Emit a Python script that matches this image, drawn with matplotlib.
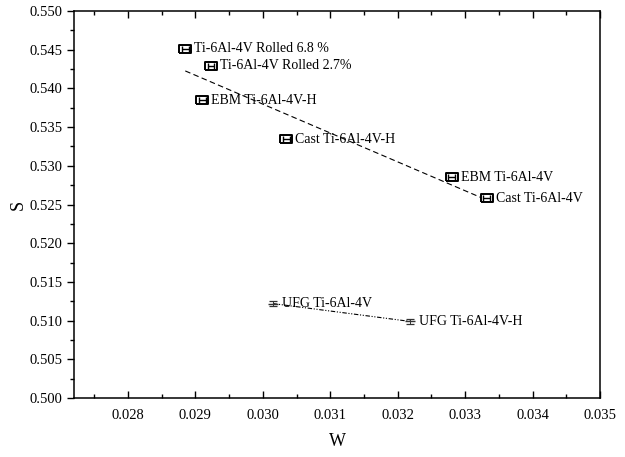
import numpy as np
import matplotlib
matplotlib.use('Agg')
import matplotlib.pyplot as plt
from matplotlib.ticker import MultipleLocator, FormatStrFormatter

plt.rcParams['font.family'] = ['Liberation Serif', 'DejaVu Serif']

# ==================== data ====================
ti_labels = ['Ti-6Al-4V Rolled 6.8 %', 'Ti-6Al-4V Rolled 2.7%', 'EBM Ti-6Al-4V-H',
             'Cast Ti-6Al-4V-H', 'EBM Ti-6Al-4V', 'Cast Ti-6Al-4V']
ti_w = [0.02885, 0.02923, 0.02910, 0.03035, 0.03280, 0.03332]
ti_s = [0.5451, 0.5429, 0.5385, 0.5334, 0.5285, 0.5258]

ufg_labels = ['UFG Ti-6Al-4V', 'UFG Ti-6Al-4V-H']
ufg_w = [0.03015, 0.03218]
ufg_s = [0.5122, 0.5099]

# ==================== figure ====================
fig = plt.figure(figsize=(6.25, 4.57), dpi=100, facecolor='white')
ax = fig.add_axes([0.1184, 0.1291, 0.8416, 0.8468])

# linear fit through the Ti-6Al-4V points
k, b = np.polyfit(ti_w, ti_s, 1)
xf = np.array([min(ti_w), max(ti_w)])
ax.plot(xf, k * xf + b, color='black', lw=0.8, dashes=(5, 3), zorder=1)

k2, b2 = np.polyfit(ufg_w, ufg_s, 1)
xf2 = np.array([min(ufg_w), max(ufg_w)])
ax.plot(xf2, k2 * xf2 + b2, color='black', lw=0.8, dashes=(4, 1.5, 1, 1.5, 1, 1.5), zorder=1)

# box markers with small error bars
box = [(-1.35, -1), (1.35, -1), (1.35, 1), (-1.35, 1), (-1.35, -1)]
ax.errorbar(ti_w, ti_s, xerr=0.00005, fmt='none', ecolor='black', elinewidth=1.0,
            capsize=2, capthick=1.0, zorder=3)
ax.plot(ti_w, ti_s, ls='none', marker=box, ms=8.5, mfc='white', mec='black', mew=1.4, zorder=2)

ax.errorbar(ufg_w, ufg_s, yerr=0.0003, fmt='_', ms=7, color='#333333', ecolor='#333333',
            elinewidth=0.7, capsize=3, capthick=0.9, zorder=3)

for w, s, lab in zip(ti_w + ufg_w, ti_s + ufg_s, ti_labels + ufg_labels):
    ax.annotate(lab, (w, s), xytext=(6.5, 0), textcoords='offset points',
                ha='left', va='center', fontsize=10)

# ==================== axes ====================
ax.set_xlim(0.0272, 0.035)
ax.set_ylim(0.500, 0.550)
ax.xaxis.set_major_locator(MultipleLocator(0.001))
ax.xaxis.set_minor_locator(MultipleLocator(0.0005))
ax.yaxis.set_major_locator(MultipleLocator(0.005))
ax.yaxis.set_minor_locator(MultipleLocator(0.0025))
ax.xaxis.set_major_formatter(FormatStrFormatter('%.3f'))
ax.yaxis.set_major_formatter(FormatStrFormatter('%.3f'))

ax.tick_params(which='both', direction='in', top=True, right=True, labelsize=10.5, width=1)
ax.tick_params(axis='y', which='both', direction='out', right=False)
ax.tick_params(which='major', length=5)
ax.tick_params(which='minor', length=3)
ax.tick_params(axis='x', pad=8)
for sp in ax.spines.values():
    sp.set_linewidth(1.1)

ax.set_xlabel('W', fontsize=13, labelpad=8)
ax.set_ylabel('S', fontsize=13, labelpad=2)

fig.savefig('out.png', dpi=100, facecolor='white')
